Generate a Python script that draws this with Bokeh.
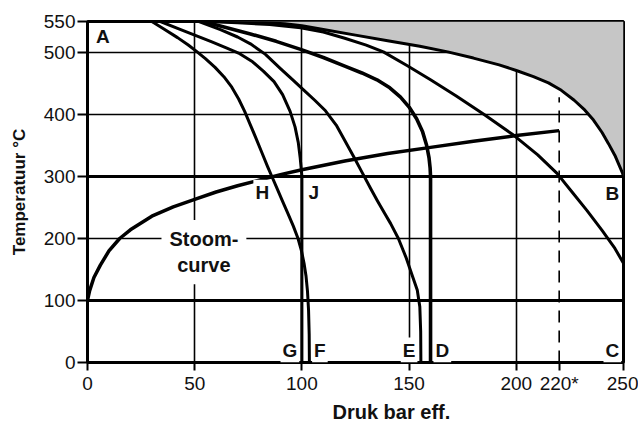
from bokeh.plotting import figure
from bokeh.models import Range1d, FixedTicker, Label, Grid, Title
from bokeh.embed import file_html
from bokeh.resources import INLINE

# ---------------- data ----------------
x_ticks = [0, 50, 100, 150, 200, 220, 250]
x_tick_text = {220: "220*"}
y_ticks = [0, 100, 200, 300, 400, 500, 550]
grid_x = [50, 100, 150, 200]
grid_y_thin = [200, 400, 500]
grid_y_thick = [100, 300]

# curve H -> F
h_p = [30, 36, 42, 47, 50.4, 55, 59.5, 63.6, 67.3, 70.5, 73.3, 76, 78.8, 81.5, 84, 86, 88.5, 91,
       93.5, 96, 98.2, 99.8, 101, 101.9, 102.6, 103.1, 103.4, 103.5]
h_t = [550, 537, 524, 512, 503, 490, 476, 461, 444, 425, 405, 383, 360, 337, 316, 300, 280, 260,
       240, 220, 200, 180, 160, 140, 115, 85, 45, 0]

# curve J -> G
j_p = [34, 42, 50, 58, 65, 71, 77, 82, 87, 91, 94.5, 96.8, 98.3, 99.2, 99.7, 100, 100]
j_t = [550, 539, 528, 517, 507, 498, 485, 470, 453, 432, 405, 380, 355, 330, 312, 300, 0]

# curve -> E
e_p = [52, 62, 70, 76, 83, 90, 96, 101, 106, 111, 116, 120, 124.3, 128, 132, 135.2, 138.5, 141.4,
       145, 148.5, 151.5, 153.8, 155, 155.4, 155.5]
e_t = [550, 537, 525, 514, 497, 474, 455, 439, 423, 406, 383, 358, 331, 307, 281, 261, 241, 224,
       200, 170, 140, 117, 90, 50, 0]

# curve -> D
d_p = [54, 65, 76, 88, 99.4, 110, 120, 128, 135, 141, 146, 150, 153.5, 156.3, 158.2, 159.3, 159.8,
       160, 160]
d_t = [550, 540, 530, 518, 505, 492, 478, 467, 456, 443, 428, 412, 393, 372, 350, 330, 314,
       300, 0]

# curve -> B
b_p = [56, 70, 85, 99.4, 110, 120, 130, 138, 149, 160, 172, 185, 199, 210, 219, 226, 233, 240, 246, 250]
b_t = [550, 548, 545, 540, 533, 523, 512, 501, 479, 456, 430, 400, 366, 335, 305, 275, 245, 213, 184, 160]

# upper limit (shaded area above it)
bound_p = [60, 80, 92, 100, 110, 125, 140, 155, 168, 180, 192, 200, 208, 215, 221, 227, 232, 236,
           240, 243, 246, 248, 249.5, 250]
bound_t = [550, 548.7, 546.5, 543, 537, 528, 519, 510, 501, 491, 480, 471, 461, 451, 439, 423, 407,
           391, 371, 353, 334, 318, 306, 300]
t_max = 550

# saturated steam curve
steam_p = [0, 1, 3, 6, 10, 15, 20, 30, 40, 50, 60, 70, 80, 90, 100, 120, 140, 160, 180, 200, 220]
steam_t = [100, 116, 137, 157, 180, 200, 214, 236, 251, 263, 275, 285, 294, 303, 311, 325, 337, 347,
           357, 366, 374]

crit_p = 220
crit_t_top = 428

label_text = ["A", "B", "C", "D", "E", "F", "G", "H", "J"]
label_p = [3, 244.8, 244.8, 165.5, 150, 108.4, 94.4, 81.5, 105.6]
label_t = [526, 272, 20, 20, 20, 20, 20, 274.6, 274.6]
label_align = ["left", "center", "center", "center", "center", "center", "center", "center", "center"]

steam_label = "Stoom-\ncurve"
steam_label_p = 54.3
steam_label_t = 178

x_title = "Druk bar eff."
y_title = "Temperatuur °C"

# ---------------- figure ----------------
FONT = "Liberation Sans"

p = figure(width=638, height=424, x_range=Range1d(0, 250), y_range=Range1d(0, 550),
           output_backend="svg", toolbar_location=None,
           min_border_left=87, min_border_right=15, min_border_top=21, min_border_bottom=62)
p.background_fill_color = "white"
p.border_fill_color = "white"
p.outline_line_color = "black"
p.outline_line_width = 3
p.outline_line_alpha = 1

for ax in (p.xaxis[0], p.yaxis[0]):
    ax.minor_tick_line_color = None
    ax.major_tick_in = 0
    ax.major_tick_line_width = 2
    ax.major_tick_line_color = "black"
    ax.axis_line_width = 3
    ax.axis_line_color = "black"
    ax.major_label_text_font = FONT
    ax.major_label_text_font_size = "19px"
    ax.major_label_text_color = "#111111"
    ax.axis_label_text_font = FONT
    ax.axis_label_text_font_style = "bold"
    ax.axis_label_text_color = "#111111"

p.xaxis.ticker = FixedTicker(ticks=x_ticks)
p.xaxis.major_label_overrides = x_tick_text
p.xaxis.major_tick_out = 8
p.xaxis.major_label_standoff = 2

p.yaxis.ticker = FixedTicker(ticks=y_ticks)
p.yaxis.major_tick_out = 10
p.yaxis.major_label_standoff = 2
p.yaxis.axis_label = y_title
p.yaxis.axis_label_text_font_size = "17px"
p.yaxis.axis_label_standoff = 12

p.add_layout(Title(text=x_title, align="left", offset=245, standoff=4,
                   text_font=FONT, text_font_style="bold", text_font_size="20px",
                   text_color="#111111"), "below")

p.xgrid.ticker = FixedTicker(ticks=grid_x)
p.xgrid.grid_line_color = "black"
p.xgrid.grid_line_width = 1.6
p.ygrid.ticker = FixedTicker(ticks=grid_y_thin)
p.ygrid.grid_line_color = "black"
p.ygrid.grid_line_width = 1.6
p.add_layout(Grid(dimension=1, ticker=FixedTicker(ticks=grid_y_thick),
                  grid_line_color="black", grid_line_width=2.8))

# shaded region above the limit curve
p.varea(x=bound_p, y1=bound_t, y2=t_max, fill_color="#c6c6c6", fill_alpha=1)
p.line(bound_p, bound_t, line_color="black", line_width=3, line_join="round")

for xs, ys, w in [(h_p, h_t, 3), (j_p, j_t, 3), (e_p, e_t, 3), (d_p, d_t, 3.6), (b_p, b_t, 3)]:
    p.line(xs, ys, line_color="black", line_width=w, line_join="round")

p.line(steam_p, steam_t, line_color="black", line_width=3.5, line_join="round")
p.segment(x0=[crit_p], y0=[0], x1=[crit_p], y1=[crit_t_top], line_color="black",
          line_width=1.6, line_dash="12 8")

for txt, xx, yy, al in zip(label_text, label_p, label_t, label_align):
    p.add_layout(Label(x=xx, y=yy, text=txt, text_align=al, text_baseline="middle",
                       text_font=FONT, text_font_style="bold", text_font_size="19px",
                       text_color="#111111", background_fill_color="white", padding=2))

p.add_layout(Label(x=steam_label_p, y=steam_label_t, text=steam_label, text_align="center",
                   text_baseline="middle", text_font=FONT, text_font_style="bold",
                   text_font_size="20px", text_color="#111111",
                   background_fill_color="white", padding=8))

open("out.html", "w").write(file_html(p, INLINE))
